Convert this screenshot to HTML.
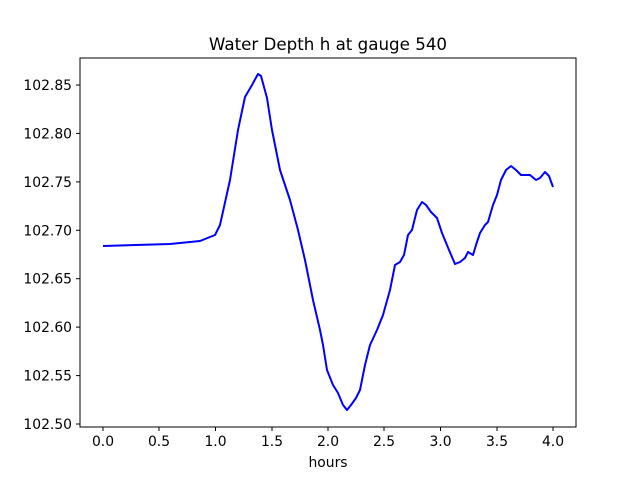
<!DOCTYPE html>
<html><head><style>body{margin:0;background:#fff}</style></head><body>
<svg width="640" height="480" xmlns="http://www.w3.org/2000/svg" font-family="DejaVu Sans, Liberation Sans, sans-serif">
<rect width="640" height="480" fill="#fff"/>
<text x="328" y="50" font-size="16.7" text-anchor="middle">Water Depth h at gauge 540</text>
<polyline fill="none" stroke="#0000ff" stroke-width="2" stroke-linejoin="round" points="103,246 170,244 200,241 215,235 220,225 230,180 238,130 245,97 252,85 258,74 261,76 267,98 272,130 280,170 290,200 298,230 305,260 313,300 320,330 323,345 327,370 333,385 338,393 343,405 347,410 351,405 356,398 360,390 365,365 370,345 377,330 383,315 390,290 395,265 400,262 404,255 408,235 412,230 417,210 422,202 426,205 431,212 437,218 442,233 449,250 455,264 460,262 465,258 468,252 473,255 476,245 480,233 485,225 488,222 493,205 497,195 501,180 506,170 511,166 516,170 521,175 530,175 536,180 540,178 545,172 549,176 553,187"/>
<rect x="80" y="58" width="496" height="369" fill="none" stroke="#000" stroke-width="1"/>
<g stroke="#000" stroke-width="1">
<line x1="103" y1="427" x2="103" y2="431"/><line x1="159" y1="427" x2="159" y2="431"/><line x1="215.5" y1="427" x2="215.5" y2="431"/><line x1="272" y1="427" x2="272" y2="431"/><line x1="328" y1="427" x2="328" y2="431"/><line x1="384" y1="427" x2="384" y2="431"/><line x1="440.5" y1="427" x2="440.5" y2="431"/><line x1="497" y1="427" x2="497" y2="431"/><line x1="553" y1="427" x2="553" y2="431"/>
<line x1="76" y1="424" x2="80" y2="424"/><line x1="76" y1="375.6" x2="80" y2="375.6"/><line x1="76" y1="327.1" x2="80" y2="327.1"/><line x1="76" y1="278.7" x2="80" y2="278.7"/><line x1="76" y1="230.3" x2="80" y2="230.3"/><line x1="76" y1="181.9" x2="80" y2="181.9"/><line x1="76" y1="133.4" x2="80" y2="133.4"/><line x1="76" y1="85" x2="80" y2="85"/>
</g>
<g font-size="13.9" text-anchor="middle">
<text x="103" y="446">0.0</text><text x="159" y="446">0.5</text><text x="215.5" y="446">1.0</text><text x="272" y="446">1.5</text><text x="328" y="446">2.0</text><text x="384" y="446">2.5</text><text x="440.5" y="446">3.0</text><text x="497" y="446">3.5</text><text x="553" y="446">4.0</text>
<text x="328" y="467">hours</text>
</g>
<g font-size="13.9" text-anchor="end">
<text x="72" y="429">102.50</text><text x="72" y="380.6">102.55</text><text x="72" y="332.1">102.60</text><text x="72" y="283.7">102.65</text><text x="72" y="235.3">102.70</text><text x="72" y="186.9">102.75</text><text x="72" y="138.4">102.80</text><text x="72" y="90">102.85</text>
</g>
</svg>
</body></html>
